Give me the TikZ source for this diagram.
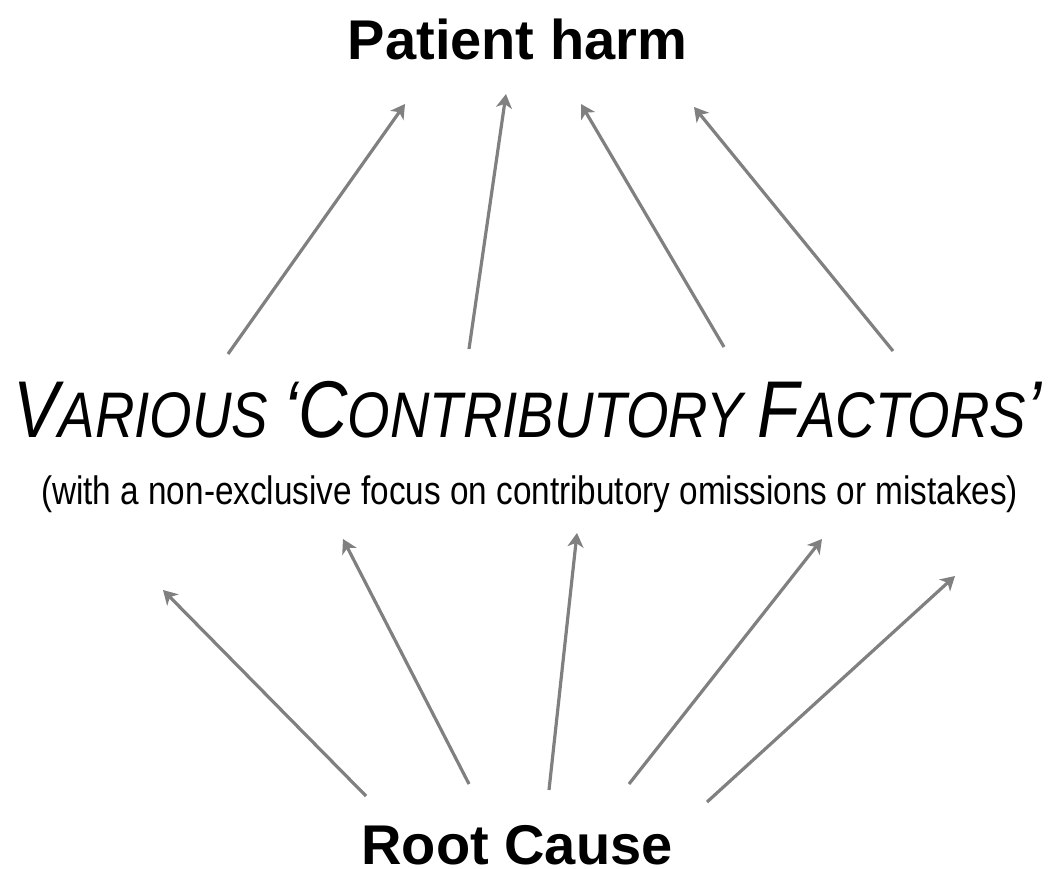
\documentclass[tikz,border=0pt]{standalone}
\usepackage{fontspec}
\setmainfont{Liberation Sans}
\usetikzlibrary{arrows.meta}
\definecolor{arrowgray}{HTML}{808080}
\tikzset{
  flow/.style={draw=arrowgray, line width=3.2pt, line cap=butt,
    -{Stealth[length=14pt,width=16pt,inset=4pt]}},
  heading/.style={font=\bfseries\fontsize{56}{56}\selectfont, inner sep=0pt, anchor=base},
  plain/.style={inner sep=0pt, anchor=base west},
}
% hand-made small capitals
\newcommand\capL[1]{{\fontsize{100}{100}\selectfont #1}}
\newcommand\capS[1]{{\fontsize{80}{80}\selectfont #1}}
\begin{document}
\begin{tikzpicture}[x=1pt,y=-1pt]
  \useasboundingbox (0,0) rectangle (1057,869);

  % texts
  \node[heading] (harm) at (517.5,60) {Patient harm};
  \node[heading] (root) at (517,864) {Root Cause};
  \node[plain] (factors) at (13,437)
    {\resizebox*{1028pt}{57pt}{\fontsize{80}{80}\selectfont\itshape
      \capL{V}\capS{ARIOUS} \capL{‘C}\capS{ONTRIBUTORY} \capL{F}\capS{ACTORS}\capL{’}}};
  \node[plain] (focus) at (41,504)
    {\resizebox*{977pt}{37pt}{(with a non-exclusive focus on contributory omissions or mistakes)}};

  % upper arrow ends
  \coordinate (u1s) at (228,354); \coordinate (u1e) at (405,104);
  \coordinate (u2s) at (469,349); \coordinate (u2e) at (506,94);
  \coordinate (u3s) at (724,347); \coordinate (u3e) at (581,104);
  \coordinate (u4s) at (893,351); \coordinate (u4e) at (694,107);

  % lower arrow ends
  \coordinate (l1s) at (366,796); \coordinate (l1e) at (163,590);
  \coordinate (l2s) at (469,784); \coordinate (l2e) at (343,539);
  \coordinate (l3s) at (549,790); \coordinate (l3e) at (577,533);
  \coordinate (l4s) at (629,784); \coordinate (l4e) at (822,539);
  \coordinate (l5s) at (707,802); \coordinate (l5e) at (955,576);

  \foreach \a in {u1,u2,u3,u4,l1,l2,l3,l4,l5}
    \draw[flow] (\a s) -- (\a e);
\end{tikzpicture}
\end{document}
